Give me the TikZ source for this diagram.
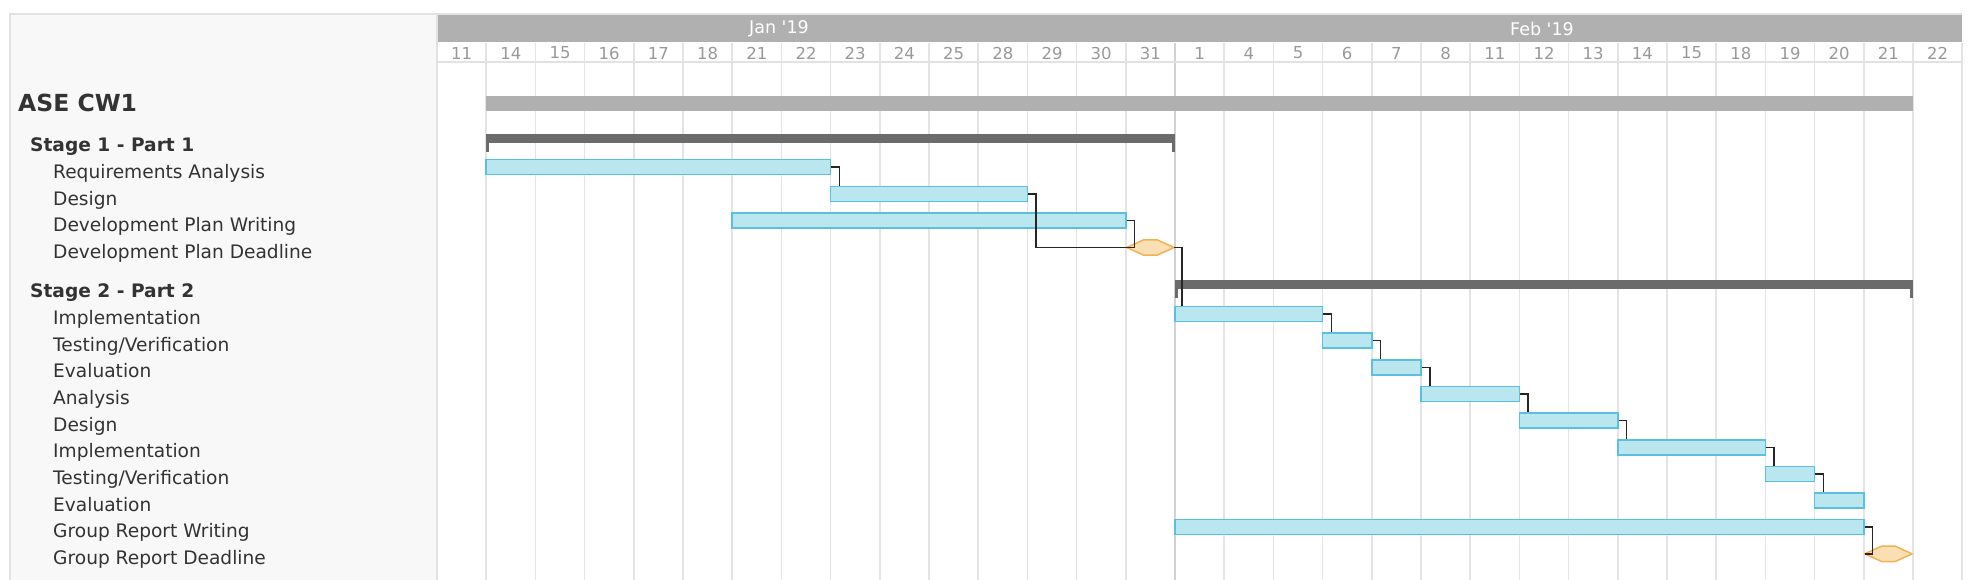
\documentclass[tikz,border=0pt]{standalone}
\usepackage{fontspec}
\setmainfont{DejaVu Sans}
\usetikzlibrary{calc}
\definecolor{panelGray}{HTML}{F8F8F8}
\definecolor{frameGray}{HTML}{E2E2E2}
\definecolor{gridGray}{HTML}{E4E4E4}
\definecolor{monthGray}{HTML}{D2D2D2}
\definecolor{headGray}{HTML}{B0B0B0}
\definecolor{groupGray}{HTML}{6B6B6B}
\definecolor{taskFill}{HTML}{B9E6EF}
\definecolor{taskLine}{HTML}{5BC0DE}
\definecolor{mileFill}{HTML}{FBDFB4}
\definecolor{mileLine}{HTML}{F2B155}
\definecolor{labelText}{HTML}{333333}
\definecolor{dayText}{HTML}{999999}
\tikzset{
    ganttTask/.style={
        draw=taskLine,
        fill=taskFill,
        line width=1.5pt,
        minimum height=15pt,
        inner sep=0pt
    },
    ganttProject/.style={
        fill=headGray,
        minimum height=15pt,
        inner sep=0pt
    },
    ganttGroupBar/.style={
        fill=groupGray,
        minimum height=9pt,
        inner sep=0pt
    },
    ganttMileBox/.style={
        minimum height=15pt,
        minimum width=47pt,
        inner sep=0pt
    },
    ganttMile/.style={
        draw=mileLine,
        fill=mileFill,
        line width=1.5pt,
        line join=round
    },
    ganttLink/.style={
        draw=black!85,
        line width=1.5pt
    },
    gridLine/.style={
        draw=gridGray,
        line width=1.5pt
    },
    frameLine/.style={
        draw=frameGray,
        line width=2pt
    },
    titleLabel/.style={
        anchor=base west,
        inner sep=0pt,
        text=labelText,
        font=\fontsize{23.5}{28}\selectfont\bfseries
    },
    groupLabel/.style={
        anchor=base west,
        inner sep=0pt,
        text=labelText,
        font=\fontsize{18.6}{22}\selectfont\bfseries
    },
    taskLabel/.style={
        anchor=base west,
        inner sep=0pt,
        text=labelText,
        font=\fontsize{18.6}{22}\selectfont
    },
    dayLabel/.style={
        text=dayText,
        inner sep=0pt,
        font=\fontsize{16.5}{20}\selectfont
    },
    monthLabel/.style={
        text=white,
        inner sep=0pt,
        font=\fontsize{17.5}{21}\selectfont
    }
}
% bar from column #3 to column #4
\newcommand{\ganttBar}[5]{%
    \node[#1, minimum width={(#4-#3)*49.2}] (#2) at ({437+(#3+#4)*24.6},#5) {};}
\newcommand{\ganttGroup}[4]{%
    \node[ganttGroupBar, minimum width={(#3-#2)*49.2}] (#1) at ({437+(#2+#3)*24.6},#4) {};
    \fill[groupGray] (#1.south west) rectangle ++(3,9);
    \fill[groupGray] (#1.south east) rectangle ++(-3,9);}
\newcommand{\ganttMilestone}[3]{%
    \node[ganttMileBox] (#1) at ({437+(2*#2+1)*24.6},#3) {};
    \filldraw[ganttMile] (#1.west) -- ([xshift=17]#1.north west) -- ([xshift=-17]#1.north east)
        -- (#1.east) -- ([xshift=-17]#1.south east) -- ([xshift=17]#1.south west) -- cycle;}
\newcommand{\linkDown}[2]{%
    \draw[ganttLink] (#1.east) -- ++(8,0) coordinate (#1Turn) -- (#1Turn |- #2.north);}
\newcommand{\linkMile}[2]{%
    \draw[ganttLink] (#1.east) -- ++(8,0) |- (#2.west);}

\begin{document}
\begin{tikzpicture}[x=1pt,y=-1pt]
    \useasboundingbox (0,0) rectangle (1976,580);

    % panel, header and grid
    \fill[panelGray] (10,14) rectangle (437,580);
    \fill[headGray] (437,15) rectangle (1962,42);
    \foreach \k in {1,...,31}
        \draw[gridLine] ({437+\k*49.2},43) -- ({437+\k*49.2},580);
    \draw[gridLine, draw=monthGray] (1175,43) -- (1175,580);
    \draw[frameLine] (437,14) -- (437,580);
    \draw[frameLine] (437,62) -- (1962,62);
    \draw[frameLine] (10,580) -- (10,14) -- (1962,14);

    \node[monthLabel] (janLbl) at (779,28.5) {Jan \textquotesingle19};
    \node[monthLabel] (febLbl) at (1542,28.5) {Feb \textquotesingle19};
    \foreach \d [count=\k from 0] in {11,14,15,16,17,18,21,22,23,24,25,28,29,30,31,
                                      1,4,5,6,7,8,11,12,13,14,15,18,19,20,21,22}
        \node[dayLabel] (day\k) at ({437+(\k+0.5)*49.2},53) {\d};

    % task names
    \node[titleLabel] (projLbl) at (18,112) {ASE CW1};
    \node[groupLabel] (stageOneLbl) at (30,151.5) {Stage 1 - Part 1};
    \foreach \t [count=\i] in {Requirements Analysis,Design,Development Plan Writing,Development Plan Deadline}
        \node[taskLabel] (oneLbl\i) at (53,{178.5+(\i-1)*26.65}) {\t};
    \node[groupLabel] (stageTwoLbl) at (30,297.5) {Stage 2 - Part 2};
    \foreach \t [count=\i] in {Implementation,Testing/Verification,Evaluation,Analysis,Design,
                               Implementation,Testing/Verification,Evaluation,Group Report Writing,Group Report Deadline}
        \node[taskLabel] (twoLbl\i) at (53,{324.5+(\i-1)*26.65}) {\t};

    % summary bars
    \ganttBar{ganttProject}{project}{1}{30}{103.5}
    \ganttGroup{stageOne}{1}{15}{138.5}
    \ganttGroup{stageTwo}{15}{30}{284.5}

    % stage 1
    \ganttBar{ganttTask}{req}{1}{8}{167}
    \ganttBar{ganttTask}{desOne}{8}{12}{194}
    \ganttBar{ganttTask}{dpw}{6}{14}{220.5}
    \ganttMilestone{dpd}{14}{247.5}

    % stage 2
    \ganttBar{ganttTask}{implOne}{15}{18}{314}
    \ganttBar{ganttTask}{testOne}{18}{19}{340.65}
    \ganttBar{ganttTask}{evalOne}{19}{20}{367.3}
    \ganttBar{ganttTask}{anal}{20}{22}{393.95}
    \ganttBar{ganttTask}{desTwo}{22}{24}{420.6}
    \ganttBar{ganttTask}{implTwo}{24}{27}{447.25}
    \ganttBar{ganttTask}{testTwo}{27}{28}{473.9}
    \ganttBar{ganttTask}{evalTwo}{28}{29}{500.55}
    \ganttBar{ganttTask}{grw}{15}{29}{527.2}
    \ganttMilestone{grd}{29}{553.85}

    % links
    \linkDown{req}{desOne}
    \linkMile{desOne}{dpd}
    \linkMile{dpw}{dpd}
    \linkDown{dpd}{implOne}
    \linkDown{implOne}{testOne}
    \linkDown{testOne}{evalOne}
    \linkDown{evalOne}{anal}
    \linkDown{anal}{desTwo}
    \linkDown{desTwo}{implTwo}
    \linkDown{implTwo}{testTwo}
    \linkDown{testTwo}{evalTwo}
    \linkMile{grw}{grd}
\end{tikzpicture}
\end{document}
